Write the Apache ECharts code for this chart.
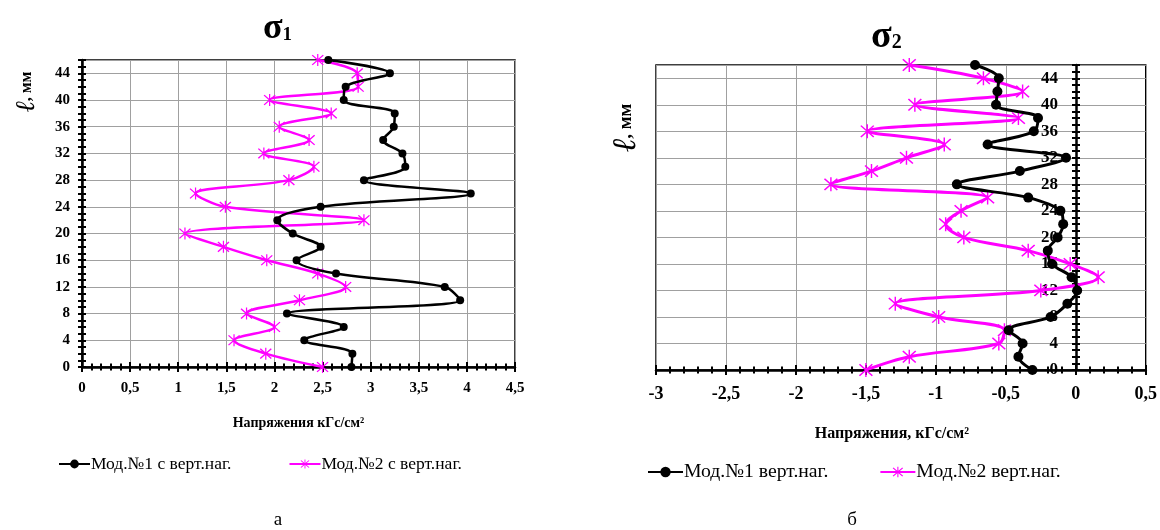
<!DOCTYPE html>
<html><head><meta charset="utf-8">
<script src="https://cdn.jsdelivr.net/npm/echarts@6/dist/echarts.min.js"></script>
<style>html,body{margin:0;padding:0;background:#fff}#c{width:1160px;height:530px}</style>
</head><body><div id="c"></div>
<script>
// ---- data ----
const levels = [0,2,4,6,8,10,12,14,16,18,20,22,24,26,28,30,32,34,36,38,40,42,44,46];
const sigma1Mod1 = [2.80,2.81,2.31,2.72,2.13,3.93,3.77,2.64,2.23,2.48,2.19,2.03,2.48,4.04,2.93,3.36,3.33,3.13,3.24,3.25,2.72,2.74,3.20,2.56];
const sigma1Mod2 = [2.50,1.91,1.58,2.00,1.71,2.26,2.74,2.45,1.92,1.47,1.07,2.93,1.49,1.18,2.15,2.41,1.89,2.36,2.05,2.59,1.95,2.87,2.86,2.45];
const sigma2Mod1 = [-0.31,-0.41,-0.38,-0.48,-0.18,-0.06,0.01,-0.03,-0.17,-0.20,-0.13,-0.09,-0.11,-0.34,-0.85,-0.40,-0.07,-0.63,-0.30,-0.27,-0.57,-0.56,-0.55,-0.72];
const sigma2Mod2 = [-1.50,-1.19,-0.55,-0.51,-0.98,-1.29,-0.25,0.16,-0.04,-0.34,-0.80,-0.93,-0.82,-0.63,-1.75,-1.46,-1.21,-0.94,-1.49,-0.41,-1.15,-0.38,-0.66,-1.19];
const namesLeft = ['Мод.№1 с верт.наг.', 'Мод.№2 с верт.наг.'];
const namesRight = ['Мод.№1 верт.наг.', 'Мод.№2 верт.наг.'];
const titleLeft = ['σ', '1'];
const titleRight = ['σ', '2'];
const xNameLeft = 'Напряжения кГс/см²';
const xNameRight = 'Напряжения, кГс/см²';
const yName = ['ℓ', ', мм'];
const captions = ['а', 'б'];

// ---- styling ----
const FF = "'Liberation Serif','Times New Roman',serif";
const GRIDC = '#a0a0a0';
const STAR = 'path://M9.1 0L10.9 0L10.9 20L9.1 20Z M1.2 2.6L2.6 1.2L18.8 17.4L17.4 18.8Z M17.4 1.2L18.8 2.6L2.6 18.8L1.2 17.4Z';
const comma = v => String(Math.round(v * 10) / 10).replace('.', ',');
const pairs = vals => levels.map((y, i) => [vals[i], y]);
// right panel: vertical axis drawn at x = 0 (grid left edge is x = -3)
const RIGHT_W = 490, RIGHT_MIN = -3, RIGHT_MAX = 0.5;
const zeroOffset = -RIGHT_W * (0 - RIGHT_MIN) / (RIGHT_MAX - RIGHT_MIN);

function mainX(grid, min, max, fs, margin, name, nameGap, nameFs, namePad) {
  return {
    type: 'value', gridIndex: grid, min: min, max: max, interval: 0.5, position: 'bottom',
    axisLine: {show: true, onZero: false, lineStyle: {color: '#000', width: 2.5}},
    axisTick: {show: true, length: 5, lineStyle: {color: '#000', width: 2}},
    minorTick: {show: true, splitNumber: 5, length: 3.5, lineStyle: {color: '#000', width: 2}},
    splitLine: {show: true, lineStyle: {color: GRIDC, width: 1}},
    axisLabel: {color: '#000', fontFamily: FF, fontWeight: 'bold', fontSize: fs, margin: margin, formatter: comma},
    name: name, nameLocation: 'middle', nameGap: nameGap,
    nameTextStyle: {color: '#000', fontFamily: FF, fontWeight: 'bold', fontSize: nameFs, padding: namePad}
  };
}
function helperX(grid, min, max) {
  return {
    type: 'value', gridIndex: grid, min: min, max: max, interval: 0.5, position: 'bottom',
    axisLine: {show: false, onZero: false},
    axisTick: {show: true, inside: true, length: 5, lineStyle: {color: '#000', width: 2}},
    minorTick: {show: true, splitNumber: 5, length: 3.5, lineStyle: {color: '#000', width: 2}},
    splitLine: {show: false}, axisLabel: {show: false}
  };
}
function mainY(grid, fs, margin, offset) {
  return {
    type: 'value', gridIndex: grid, min: 0, max: 46, interval: 4, position: 'left', offset: offset,
    axisLine: {show: true, onZero: false, lineStyle: {color: '#000', width: 2.5}},
    axisTick: {show: true, length: 4, lineStyle: {color: '#000', width: 2}},
    minorTick: {show: true, splitNumber: 4, length: 4, lineStyle: {color: '#000', width: 2}},
    splitLine: {show: true, lineStyle: {color: GRIDC, width: 1}},
    axisLabel: {color: '#000', fontFamily: FF, fontWeight: 'bold', fontSize: fs, margin: margin, showMaxLabel: false}
  };
}
function helperY(grid, offset) {
  return {
    type: 'value', gridIndex: grid, min: 0, max: 46, interval: 4, position: 'left', offset: offset,
    axisLine: {show: false, onZero: false},
    axisTick: {show: true, inside: true, length: 4, lineStyle: {color: '#000', width: 2}},
    minorTick: {show: true, splitNumber: 4, length: 4, lineStyle: {color: '#000', width: 2}},
    splitLine: {show: false}, axisLabel: {show: false}
  };
}
function blackSeries(name, vals, xi, yi, size, lw) {
  return {
    type: 'line', name: name, xAxisIndex: xi, yAxisIndex: yi, data: pairs(vals), smooth: 0.35,
    symbol: 'circle', symbolSize: size, color: '#000',
    itemStyle: {color: '#000'}, lineStyle: {color: '#000', width: lw}, z: 4
  };
}
function pinkSeries(name, vals, xi, yi, size, lw) {
  return {
    type: 'line', name: name, xAxisIndex: xi, yAxisIndex: yi, data: pairs(vals), smooth: 0.35,
    symbol: STAR, symbolSize: size, color: '#ff00ff',
    itemStyle: {color: '#ff00ff'}, lineStyle: {color: '#ff00ff', width: lw}, z: 3
  };
}

const chart = echarts.init(document.getElementById('c'));
chart.setOption({
  backgroundColor: '#fff',
  animation: false,
  title: [
    {text: '{s|' + titleLeft[0] + '}{n|' + titleLeft[1] + '}', left: 258, top: 6,
     textStyle: {rich: {s: {fontFamily: FF, fontWeight: 'bold', fontSize: 36, color: '#000'},
                        n: {fontFamily: FF, fontSize: 19, color: '#000', padding: [12, 0, 0, 0]}}}},
    {text: '{s|' + titleRight[0] + '}{n|' + titleRight[1] + '}', left: 866, top: 13,
     textStyle: {rich: {s: {fontFamily: FF, fontWeight: 'bold', fontSize: 38, color: '#000'},
                        n: {fontFamily: FF, fontSize: 20, color: '#000', padding: [12, 0, 0, 0]}}}}
  ],
  grid: [
    {left: 82, top: 60, width: 433, height: 307, show: true, borderColor: '#000', borderWidth: 1.5, backgroundColor: 'transparent'},
    {left: 656, top: 65, width: RIGHT_W, height: 305, show: true, borderColor: '#000', borderWidth: 1.5, backgroundColor: 'transparent'}
  ],
  xAxis: [
    mainX(0, 0, 4.5, 15, 14, xNameLeft, 49, 14, [0, 0, 0, 0]),
    helperX(0, 0, 4.5),
    mainX(1, RIGHT_MIN, RIGHT_MAX, 18, 15, xNameRight, 56, 16, [0, 18, 0, 0]),
    helperX(1, RIGHT_MIN, RIGHT_MAX)
  ],
  yAxis: [
    mainY(0, 15, 12, 0),
    helperY(0, 0),
    mainY(1, 17, 18, zeroOffset),
    helperY(1, zeroOffset)
  ],
  legend: [
    {data: namesLeft, left: 58, top: 455, padding: 0, itemGap: 57, itemWidth: 31, itemHeight: 11,
     textStyle: {fontFamily: FF, fontSize: 17.5, color: '#000', padding: [0, 0, 0, -4]}},
    {data: namesRight, left: 647, top: 462, padding: 0, itemGap: 51, itemWidth: 35, itemHeight: 13,
     textStyle: {fontFamily: FF, fontSize: 19.7, color: '#000', padding: [0, 0, 0, -4]}}
  ],
  graphic: [
    {type: 'text', x: 27, y: 92, rotation: Math.PI / 2,
     style: {text: '{a|' + yName[0] + '}{b|' + yName[1] + '}', align: 'center', verticalAlign: 'middle',
             rich: {a: {fontFamily: FF, fontStyle: 'italic', fontSize: 27, fill: '#000'},
                    b: {fontFamily: FF, fontWeight: 'bold', fontSize: 16, fill: '#000'}}}},
    {type: 'text', x: 626, y: 128, rotation: Math.PI / 2,
     style: {text: '{a|' + yName[0] + '}{b|' + yName[1] + '}', align: 'center', verticalAlign: 'middle',
             rich: {a: {fontFamily: FF, fontStyle: 'italic', fontSize: 33, fill: '#000'},
                    b: {fontFamily: FF, fontWeight: 'bold', fontSize: 19, fill: '#000'}}}},
    {type: 'text', x: 278, y: 520,
     style: {text: captions[0], align: 'center', verticalAlign: 'middle', fontFamily: FF, fontSize: 19, fill: '#000'}},
    {type: 'text', x: 852, y: 520,
     style: {text: captions[1], align: 'center', verticalAlign: 'middle', fontFamily: FF, fontSize: 19, fill: '#000'}}
  ],
  series: [
    blackSeries(namesLeft[0], sigma1Mod1, 0, 0, 8, 2.5),
    pinkSeries(namesLeft[1], sigma1Mod2, 0, 0, 12, 2.5),
    blackSeries(namesRight[0], sigma2Mod1, 2, 2, 10, 3),
    pinkSeries(namesRight[1], sigma2Mod2, 2, 2, 14, 3)
  ]
});
</script>
</body></html>
